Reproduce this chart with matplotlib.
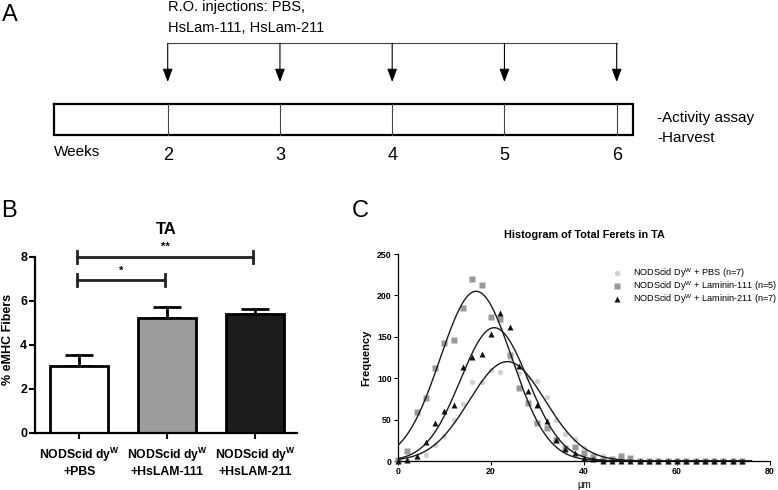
import numpy as np
import matplotlib
matplotlib.use("Agg")
import matplotlib.pyplot as plt

plt.rcParams['font.family'] = ['Liberation Sans', 'DejaVu Sans']
plt.rcParams['mathtext.fontset'] = 'custom'
plt.rcParams['mathtext.rm'] = 'Liberation Sans'
plt.rcParams['mathtext.bf'] = 'Liberation Sans:bold'
plt.rcParams['mathtext.it'] = 'Liberation Sans:italic'

# ---------------- data ----------------
weeks = [2, 3, 4, 5, 6]
injection_lines = ["R.O. injections: PBS,", "HsLam-111, HsLam-211"]
end_lines = ["-Activity assay", "-Harvest"]

groups = ["NODScid dy$^{\\mathbf{W}}$\n+PBS",
          "NODScid dy$^{\\mathbf{W}}$\n+HsLAM-111",
          "NODScid dy$^{\\mathbf{W}}$\n+HsLAM-211"]
means = [3.03, 5.20, 5.39]
sems = [0.50, 0.53, 0.23]
bar_colors = ["white", "#9b9c9e", "#1c1c1c"]
sig_pairs = [(0, 1, 6.95, "*"), (0, 2, 8.0, "**")]

bins = list(range(0, 76, 2))
pbs = [0, 1, 2, 7, 19, 30, 49, 69, 95, 96, 110, 107, 124, 106, 100, 97, 77, 50,
       33, 26, 16, 7, 6, 3, 1, 1, 0, 0, 0, 0, 0, 0, 0, 0, 0, 0, 0, 0]
lam111 = [1, 11.5, 59.5, 76, 112, 143, 146, 184.5, 220, 213, 174, 171, 128.5, 88,
          70, 46, 40, 25, 16, 17, 10, 5, 1, 3, 6.5, 4, 0, 0, 0, 0, 0, 0, 0, 0, 0, 0, 0, 0]
lam211 = [0, 1, 6, 23, 46, 60, 68, 113, 126, 129, 153, 178.5, 162, 115, 84, 67.5,
          48, 25, 15, 10, 4, 2, 0, 0, 0, 0, 0, 0, 0, 0, 0, 0, 0, 0, 0, 0, 0, 0]
# Gaussian fit parameters (amplitude, mean, sd)
fit_pbs = (120, 23.5, 8.2)
fit_111 = (205, 16.8, 7.7)
fit_211 = (161, 20.7, 7.3)
labels_c = ["NODScid Dy$^{\\mathrm{W}}$ + PBS (n=7)",
            "NODScid Dy$^{\\mathrm{W}}$ + Laminin-111 (n=5)",
            "NODScid Dy$^{\\mathrm{W}}$ + Laminin-211 (n=7)"]

W, H = 778, 490
fig = plt.figure(figsize=(W / 100, H / 100), dpi=100)

def fx(px):
    return px / W

def fy(py):
    return 1 - py / H

# ---------------- Panel A ----------------
axA = fig.add_axes([0, fy(170), 1, 170 / H])
px_per_week = 112.25
axA.set_xlim(2 - 167.7 / px_per_week, 2 + (W - 167.7) / px_per_week)
axA.set_ylim(170, 0)
axA.axis('off')
box_l, box_r, box_t, box_b = 0.987, 6.148, 104, 135
axA.plot([box_l, box_r, box_r, box_l, box_l], [box_t, box_t, box_b, box_b, box_t],
         color='black', lw=1.6, solid_joinstyle='miter')
for w in weeks:
    axA.plot([w, w], [box_t, box_b], color='#444444', lw=0.8)
    axA.annotate("", xy=(w, 82), xytext=(w, 43.3),
                 arrowprops=dict(arrowstyle='-|>,head_length=0.8,head_width=0.3',
                                 color='black', lw=0.8, shrinkA=0, shrinkB=0))
    axA.text(w, 156, str(w), ha='center', va='center', fontsize=13)
axA.plot([weeks[0], weeks[-1]], [43.3, 43.3], color='#444444', lw=0.8)
axA.text(weeks[0], 7.5, injection_lines[0], ha='left', va='center', fontsize=10.5)
axA.text(weeks[0], 28.5, injection_lines[1], ha='left', va='center', fontsize=10.5)
axA.text(box_l, 152, "Weeks", ha='left', va='center', fontsize=11)
axA.text(6.36, 118.3, end_lines[0], ha='left', va='center', fontsize=11)
axA.text(6.36, 138.3, end_lines[1], ha='left', va='center', fontsize=11)
fig.text(fx(2), fy(15), "A", fontsize=17, ha='left', va='center')

# ---------------- Panel B ----------------
axB = fig.add_axes([fx(35), fy(432.7), (297 - 35) / W, 176 / H])
x = np.arange(len(groups))
axB.bar(x, means, width=0.66, color=bar_colors, edgecolor='black', linewidth=2.0, zorder=2)
axB.errorbar(x, means, yerr=[np.zeros(3), sems], fmt='none', ecolor='black',
             elinewidth=2.0, capsize=10, capthick=2.0, zorder=1)
axB.set_xlim(-0.503, 2.475)
axB.set_ylim(0, 8)
axB.set_yticks([0, 2, 4, 6, 8])
axB.set_xticks(x)
axB.set_xticklabels(groups, fontsize=8.8, fontweight='bold', linespacing=1.2)
for lab in axB.get_yticklabels():
    lab.set_fontweight('bold')
    lab.set_fontsize(9)
axB.tick_params(axis='both', width=1.5, length=4.5)
axB.tick_params(axis='y', pad=1)
axB.tick_params(axis='x', pad=5)
for s in ['top', 'right']:
    axB.spines[s].set_visible(False)
for s in ['left', 'bottom']:
    axB.spines[s].set_linewidth(1.6)
axB.set_ylabel("% eMHC Fibers", fontsize=9, fontweight='bold')
axB.yaxis.set_label_coords((14 - 35) / 262, (432.7 - 339) / 176)
axB.text(0.5, (432.7 - 229) / 176, "TA", transform=axB.transAxes, ha='center',
         va='center', fontsize=12, fontweight='bold')
for a, b, yv, star in sig_pairs:
    xa, xb = a - 0.02, b - 0.02
    axB.plot([xa, xb], [yv, yv], color='#222222', lw=2.0, clip_on=False)
    for xx in (xa, xb):
        axB.plot([xx, xx], [yv - 0.27, yv + 0.27], color='#222222', lw=2.0, clip_on=False)
    axB.text((xa + xb) / 2, yv + 0.2, star, ha='center', va='bottom', fontsize=8,
             fontweight='bold')
fig.text(fx(1), fy(211), "B", fontsize=17, ha='left', va='center')

# ---------------- Panel C ----------------
c_left, c_right, c_top, c_bot = 398, 770, 254, 461
axC = fig.add_axes([fx(c_left), fy(c_bot), (c_right - c_left) / W, (c_bot - c_top) / H])
xs = np.linspace(0, 76, 400)

def gauss(p, t):
    a, m, s = p
    return a * np.exp(-(t - m) ** 2 / (2 * s ** 2))

for p in (fit_pbs, fit_111, fit_211):
    axC.plot(xs, gauss(p, xs), color='#1a1a1a', lw=1.0, zorder=3)
styles = [dict(marker='o', color='#d2d2d2', markersize=3.8),
          dict(marker='s', color='#999999', markersize=4.2),
          dict(marker='^', color='#111111', markersize=4.2)]
for ys, st, z in zip((pbs, lam111, lam211), styles, (2, 2, 4)):
    axC.plot(bins, ys, linestyle='none', mec='none', clip_on=False, zorder=z, **st)
axC.set_xlim(0, 80)
axC.set_ylim(0, 250)
axC.set_xticks([0, 20, 40, 60, 80])
axC.set_yticks([0, 50, 100, 150, 200, 250])
axC.tick_params(axis='both', labelsize=6.3, width=0.8, length=3, pad=1.5)
for lab in axC.get_xticklabels() + axC.get_yticklabels():
    lab.set_fontweight('bold')
for s in ['top', 'right']:
    axC.spines[s].set_visible(False)
for s in ['left', 'bottom']:
    axC.spines[s].set_linewidth(0.9)
axC.set_xlabel("\u00b5m", fontsize=7, labelpad=3)
axC.set_ylabel("Frequency", fontsize=8, fontweight='bold', labelpad=4)
axC.text(0.5, (c_bot - 235) / (c_bot - c_top), "Histogram of Total Ferets in TA",
         transform=axC.transAxes, ha='center', va='center', fontsize=7.8, fontweight='bold')
# legend drawn in axes-fraction coordinates
span_x = c_right - c_left
span_y = c_bot - c_top
for i, (lab, st) in enumerate(zip(labels_c, styles)):
    ypix = 272.7 + i * 13
    ya = (c_bot - ypix) / span_y
    axC.plot([(617 - c_left) / span_x], [ya], transform=axC.transAxes, linestyle='none',
             mec='none', clip_on=False, **st)
    axC.text((633 - c_left) / span_x, ya, lab, transform=axC.transAxes, ha='left',
             va='center', fontsize=6.6)
fig.text(fx(352), fy(211), "C", fontsize=17, ha='left', va='center')

fig.savefig("out.png", dpi=100)
